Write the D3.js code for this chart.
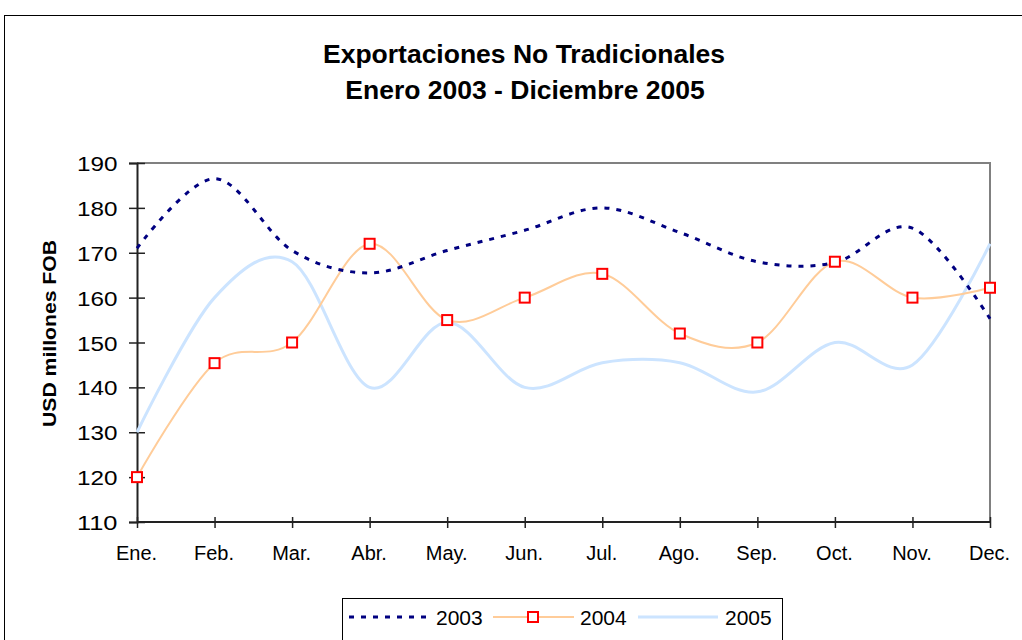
<!DOCTYPE html>
<html><head><meta charset="utf-8">
<script src="https://cdn.jsdelivr.net/npm/d3@7"></script>
<style>body{margin:0;background:#fff;}svg{display:block;font-family:"Liberation Sans",Arial,sans-serif;}</style>
</head><body><svg id="c" width="1022" height="640"></svg>
<script>
const months = ["Ene.","Feb.","Mar.","Abr.","May.","Jun.","Jul.","Ago.","Sep.","Oct.","Nov.","Dec."];
const s2003 = [171,186.5,170.5,165.5,170.5,175,180,174.5,168,167.8,175.5,155.3];
const s2004 = [120,145.4,150,172,155,160,165.3,152,150,168,160,162.2];
const s2005 = [130,160,168,140,154.5,140,145.5,145.5,139,150,145,172];
const yTicks = [110,120,130,140,150,160,170,180,190];
const seriesNames = ["2003","2004","2005"];

const svg = d3.select("#c");
svg.append("rect").attr("x",4.5).attr("y",15.5).attr("width",1030).attr("height",640).attr("fill","none").attr("stroke","#000").attr("stroke-width",1);

const L=137, R=990, T=163, B=522;
const x = d3.scalePoint().domain(months).range([L,R]);
const y = d3.scaleLinear().domain([110,190]).range([B,T]);

svg.append("path").attr("d",`M${L},${T}H${R}V${B}`).attr("fill","none").attr("stroke","#808080").attr("stroke-width",2);

const title = svg.append("text").attr("text-anchor","middle").attr("font-weight","bold").attr("font-size",26.5).attr("fill","#000");
title.append("tspan").attr("x",524).attr("y",62.5).text("Exportaciones No Tradicionales");
title.append("tspan").attr("x",525).attr("y",98.5).text("Enero 2003 - Diciembre 2005");

const yAx = svg.append("g").attr("transform",`translate(${L},0)`).call(d3.axisLeft(y).tickValues(yTicks).tickSize(8).tickFormat(d3.format("d")));
yAx.select(".domain").attr("stroke","#222").attr("stroke-width",2);
yAx.selectAll(".tick line").attr("x2",8).attr("x1",-8).attr("stroke","#222").attr("stroke-width",1.5);
yAx.selectAll(".tick text").attr("x",-19.5).attr("dy",null).attr("y",7.5).attr("font-size",20.5).attr("fill","#000")
  .attr("font-family","Liberation Sans, Arial, sans-serif")
  .attr("textLength",40.5).attr("lengthAdjust","spacingAndGlyphs");

const xAx = svg.append("g").attr("transform",`translate(0,${B})`).call(d3.axisBottom(x).tickSize(6));
xAx.select(".domain").attr("stroke","#222").attr("stroke-width",2).attr("d",`M${L},0H${R}`);
xAx.selectAll(".tick line").attr("y1",-5).attr("y2",6).attr("stroke","#222").attr("stroke-width",1.5);
xAx.selectAll(".tick text").attr("y",38).attr("dy",null).attr("x",-1).attr("font-size",20).attr("fill","#000").attr("font-family","Liberation Sans, Arial, sans-serif");

svg.append("text").attr("transform","translate(56,333.5) rotate(-90)").attr("text-anchor","middle").attr("font-weight","bold").attr("font-size",18)
  .attr("textLength",187).attr("lengthAdjust","spacingAndGlyphs").text("USD millones FOB");

const line = d3.line().x((d,i)=>x(months[i])).y(d=>y(d)).curve(d3.curveCardinal.tension(0));

svg.append("path").datum(s2005).attr("d",line).attr("fill","none").attr("stroke","#CCE4FF").attr("stroke-width",3);
svg.append("path").datum(s2004).attr("d",line).attr("fill","none").attr("stroke","#FFCC99").attr("stroke-width",2);
svg.append("path").datum(s2003).attr("d",line).attr("fill","none").attr("stroke","#000080").attr("stroke-width",3).attr("stroke-dasharray","5,7");

svg.append("g").selectAll("rect").data(s2004).join("rect")
  .attr("x",(d,i)=>x(months[i])-5).attr("y",d=>y(d)-5).attr("width",10).attr("height",10)
  .attr("fill","#fff").attr("stroke","#FF0000").attr("stroke-width",2);

const lg = svg.append("g");
lg.append("rect").attr("x",342.5).attr("y",598.5).attr("width",440).attr("height",60).attr("fill","#fff").attr("stroke","#000").attr("stroke-width",1);
const ly = 617;
lg.append("line").attr("x1",349).attr("x2",428).attr("y1",ly).attr("y2",ly).attr("stroke","#000080").attr("stroke-width",3).attr("stroke-dasharray","5,7");
lg.append("text").attr("x",436).attr("y",625).attr("font-size",21).text(seriesNames[0]);
lg.append("line").attr("x1",493).attr("x2",574).attr("y1",ly).attr("y2",ly).attr("stroke","#FFCC99").attr("stroke-width",2);
lg.append("rect").attr("x",528).attr("y",ly-5).attr("width",10).attr("height",10).attr("fill","#fff").attr("stroke","#FF0000").attr("stroke-width",2);
lg.append("text").attr("x",580).attr("y",625).attr("font-size",21).text(seriesNames[1]);
lg.append("line").attr("x1",638).attr("x2",718).attr("y1",ly).attr("y2",ly).attr("stroke","#CCE4FF").attr("stroke-width",3);
lg.append("text").attr("x",725).attr("y",625).attr("font-size",21).text(seriesNames[2]);
</script></body></html>
